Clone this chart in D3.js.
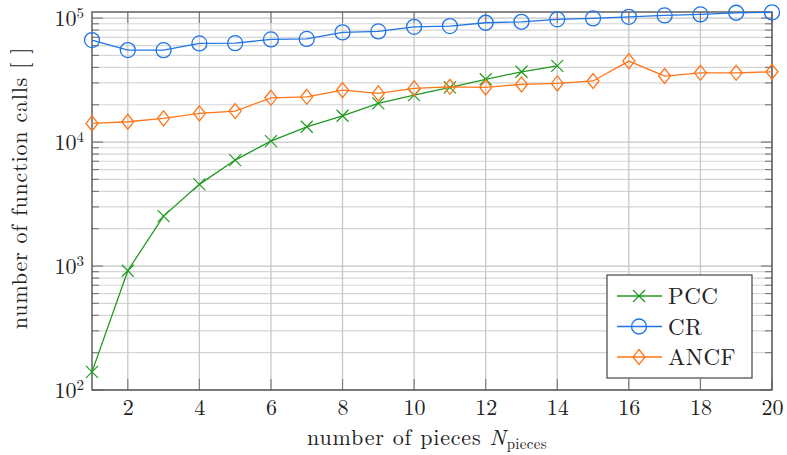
<!DOCTYPE html>
<html>
<head>
<meta charset="utf-8">
<script src="https://cdn.jsdelivr.net/npm/d3@7"></script>
<style>
  body { margin: 0; background: #fff; }
  svg text { font-family: "Latin Modern Roman", "Liberation Serif", serif; fill: #222; }
</style>
</head>
<body>
<svg id="chart" width="787" height="455"></svg>
<script>
// number of pieces
const pieces = d3.range(1, 21);

// function calls per method
const pccCalls = [140, 916, 2530, 4560, 7160, 10190, 13280, 16300, 20500, 23900, 27600, 32100, 36900, 41200];
const crCalls = [66500, 55200, 55100, 62500, 62800, 67300, 67900, 76700, 78100, 85100, 86200, 91700,
                 93400, 97700, 99500, 102400, 105100, 107100, 110400, 111200];
const ancfCalls = [14150, 14580, 15530, 17040, 17780, 22760, 23190, 26250, 24700, 27100, 27900, 27600,
                   29200, 29700, 31100, 45000, 34100, 36200, 36200, 36900];

const seriesNames = ['PCC', 'CR', 'ANCF'];
const xTicks = [2, 4, 6, 8, 10, 12, 14, 16, 18, 20];
const yDecades = [100, 1000, 10000, 100000];

const colors = { PCC: '#1f9a1f', CR: '#1f74e6', ANCF: '#ff7518' };

const margin = { top: 12, right: 15, bottom: 65, left: 92 };
const width = 787 - margin.left - margin.right;
const height = 455 - margin.top - margin.bottom;

const svg = d3.select('#chart');
const g = svg.append('g').attr('transform', `translate(${margin.left},${margin.top})`);

const x = d3.scaleLinear().domain([1, 20]).range([0, width]);
const y = d3.scaleLog().domain([100, 112000]).range([height, 0]);

// minor values for log grid
const minorVals = [];
yDecades.forEach(d => {
    for (let k = 2; k <= 9; k++) {
        const v = d * k;
        if (v < y.domain()[1]) minorVals.push(v);
    }
});

// grid
g.append('g')
    .selectAll('line')
    .data(minorVals)
    .join('line')
    .attr('x1', 0).attr('x2', width)
    .attr('y1', d => y(d)).attr('y2', d => y(d))
    .attr('stroke', '#d6d6d6')
    .attr('stroke-width', 1.2);

g.append('g')
    .selectAll('line')
    .data(yDecades)
    .join('line')
    .attr('x1', 0).attr('x2', width)
    .attr('y1', d => y(d)).attr('y2', d => y(d))
    .attr('stroke', '#c4c4c4')
    .attr('stroke-width', 1.3);

g.append('g')
    .selectAll('line')
    .data(xTicks)
    .join('line')
    .attr('x1', d => x(d)).attr('x2', d => x(d))
    .attr('y1', 0).attr('y2', height)
    .attr('stroke', '#c8c8c8')
    .attr('stroke-width', 1.3);

// ticks on all sides (inside)
const tickG = g.append('g').attr('stroke', '#777').attr('stroke-width', 1.1);
[0, width].forEach(x0 => {
    const dir = x0 === 0 ? 1 : -1;
    tickG.selectAll(null).data(minorVals).enter().append('line')
        .attr('x1', x0).attr('x2', x0 + dir * 7)
        .attr('y1', d => y(d)).attr('y2', d => y(d));
    tickG.selectAll(null).data(yDecades).enter().append('line')
        .attr('x1', x0).attr('x2', x0 + dir * 11)
        .attr('y1', d => y(d)).attr('y2', d => y(d));
});
[0, height].forEach(y0 => {
    const dir = y0 === 0 ? 1 : -1;
    tickG.selectAll(null).data(xTicks).enter().append('line')
        .attr('x1', d => x(d)).attr('x2', d => x(d))
        .attr('y1', y0).attr('y2', y0 + dir * 11);
});

// frame
g.append('rect')
    .attr('width', width).attr('height', height)
    .attr('fill', 'none')
    .attr('stroke', '#555')
    .attr('stroke-width', 1.4);

// axes labels via d3 axes
const xAxis = g.append('g')
    .attr('transform', `translate(0,${height})`)
    .call(d3.axisBottom(x).tickValues(xTicks).tickSize(0).tickPadding(9).tickFormat(d3.format('d')))
    .call(a => a.select('.domain').remove());
xAxis.selectAll('text').attr('font-size', 22).style('fill', '#222');

const yAxis = g.append('g')
    .call(d3.axisLeft(y).tickValues(yDecades).tickSize(0).tickPadding(8).tickFormat(() => ''))
    .call(a => a.select('.domain').remove());
yAxis.selectAll('.tick text').each(function (d) {
    const t = d3.select(this).attr('font-size', 22).style('fill', '#222');
    t.append('tspan').text('10');
    t.append('tspan').attr('font-size', 15).attr('dy', -8).text(Math.round(Math.log10(d)));
});

// series
const series = [
    { name: 'PCC', values: pccCalls },
    { name: 'CR', values: crCalls },
    { name: 'ANCF', values: ancfCalls },
];

const line = d3.line().x(d => x(d.n)).y(d => y(d.v));

function drawMarker(sel, name, color) {
    if (name === 'PCC') {
        sel.append('path').attr('d', 'M-6,-6L6,6M-6,6L6,-6')
            .attr('stroke', color).attr('stroke-width', 1.2).attr('fill', 'none');
    } else if (name === 'CR') {
        sel.append('circle').attr('r', 7.5)
            .attr('stroke', color).attr('stroke-width', 1.3).attr('fill', 'none');
    } else {
        sel.append('path').attr('d', 'M0,-7.5L6,0L0,7.5L-6,0Z')
            .attr('stroke', color).attr('stroke-width', 1.3).attr('fill', 'none');
    }
}

const plot = g.append('g');
series.forEach(s => {
    const pts = s.values.map((v, i) => ({ n: pieces[i], v }));
    plot.append('path')
        .datum(pts)
        .attr('d', line)
        .attr('fill', 'none')
        .attr('stroke', colors[s.name])
        .attr('stroke-width', 1.3);
    plot.selectAll(null)
        .data(pts)
        .enter()
        .append('g')
        .attr('transform', d => `translate(${x(d.n)},${y(d.v)})`)
        .each(function () { drawMarker(d3.select(this), s.name, colors[s.name]); });
});

// legend
const legend = g.append('g').attr('transform', `translate(${607 - margin.left},${275 - margin.top})`);
legend.append('rect')
    .attr('width', 145).attr('height', 103)
    .attr('fill', '#fff').attr('stroke', '#444').attr('stroke-width', 1.2);
seriesNames.forEach((name, i) => {
    const row = legend.append('g').attr('transform', `translate(0,${21 + i * 30.5})`);
    row.append('line').attr('x1', 10).attr('x2', 55)
        .attr('stroke', colors[name]).attr('stroke-width', 1.3);
    drawMarker(row.append('g').attr('transform', 'translate(32,0)'), name, colors[name]);
    row.append('text').attr('x', 61).attr('y', 8).attr('font-size', 23)
        .attr('letter-spacing', 0.5).text(name);
});

// axis titles
svg.append('text')
    .attr('x', margin.left + width / 2 - 5)
    .attr('y', 445)
    .attr('text-anchor', 'middle')
    .attr('font-size', 22)
    .attr('letter-spacing', 0.8)
    .call(t => {
        t.append('tspan').text('number of pieces ');
        t.append('tspan').attr('font-style', 'italic').text('N');
        t.append('tspan').attr('font-size', 15).attr('dy', 4).attr('letter-spacing', 0.3).text('pieces');
    });

svg.append('text')
    .attr('transform', `translate(27,188) rotate(-90)`)
    .attr('text-anchor', 'middle')
    .attr('font-size', 22)
    .attr('letter-spacing', 0.8)
    .text('number of function calls [ ]');
</script>
</body>
</html>
